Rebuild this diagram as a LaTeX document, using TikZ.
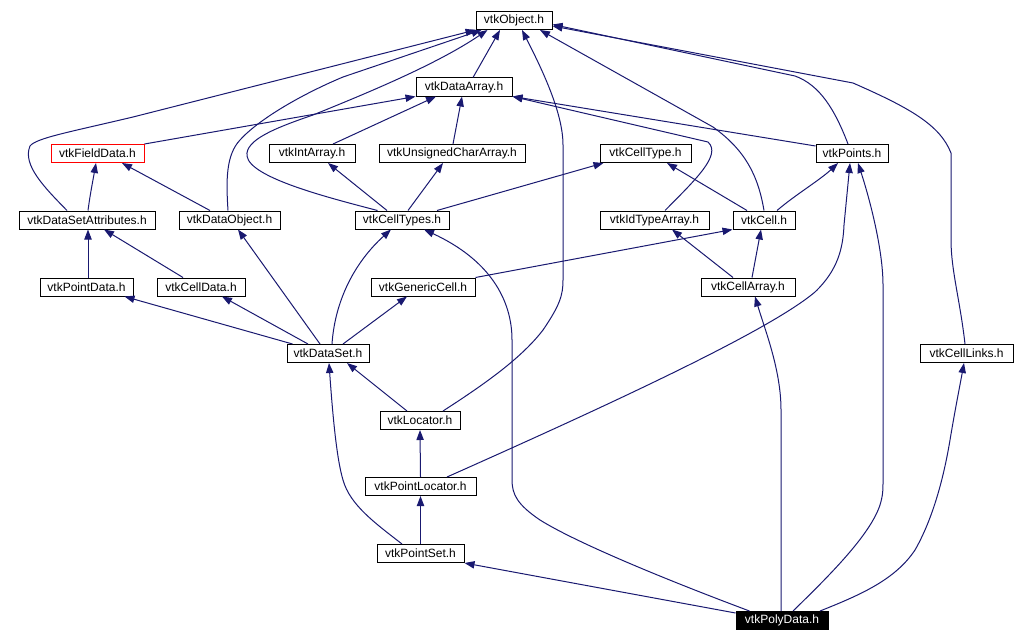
\documentclass[tikz,border=0pt]{standalone}
\usepackage{fontspec}
\setmainfont{Liberation Sans}
\usetikzlibrary{arrows.meta,calc}
\definecolor{lineblue}{HTML}{191970}
\newcommand\boxfont{\fontsize{9}{10}\selectfont}
\begin{document}
\begin{tikzpicture}[x=0.75pt,y=-0.75pt,
  box/.style={draw=black, line width=0.75pt, fill=white, inner sep=0pt, minimum height=13.5pt, minimum width={#1*0.75pt}, font=\boxfont},
  redbox/.style={box=#1, draw=red},
  blackbox/.style={box=#1, fill=black, text=white},
  dep/.style={draw=lineblue, line width=0.75pt, -{Triangle[length=7.5pt,width=5.5pt]}},
]
\useasboundingbox (0,0) rectangle (1016,642);
% nodes
\node[box=76]  (obj)  at (514,20.5) {vtkObject.h};
\node[box=96]  (darr) at (464,87) {vtkDataArray.h};
\node[redbox=93] (fd) at (97.5,153.5) {vtkFieldData.h};
\node[box=86]  (ia)   at (312,153.5) {vtkIntArray.h};
\node[box=146] (uca)  at (452,153.5) {vtkUnsignedCharArray.h};
\node[box=91]  (ct)   at (645.5,153.5) {vtkCellType.h};
\node[box=72]  (pts)  at (852,153.5) {vtkPoints.h};
\node[box=136] (dsa)  at (87,220) {vtkDataSetAttributes.h};
\node[box=101] (dob)  at (229.5,220) {vtkDataObject.h};
\node[box=94]  (cts)  at (402,220) {vtkCellTypes.h};
\node[box=109] (ida)  at (654.5,220) {vtkIdTypeArray.h};
\node[box=62]  (cell) at (764,220) {vtkCell.h};
\node[box=93]  (pd)   at (86.5,287) {vtkPointData.h};
\node[box=88]  (cd)   at (201,287) {vtkCellData.h};
\node[box=104] (gc)   at (423,287) {vtkGenericCell.h};
\node[box=94]  (ca)   at (748,287) {vtkCellArray.h};
\node[box=82]  (ds)   at (328,353.5) {vtkDataSet.h};
\node[box=93]  (cl)   at (966.5,353.5) {vtkCellLinks.h};
\node[box=80]  (loc)  at (420,420.5) {vtkLocator.h};
\node[box=111] (ploc) at (420.5,486.5) {vtkPointLocator.h};
\node[box=87]  (pset) at (420.5,553.5) {vtkPointSet.h};
\node[blackbox=92] (poly) at (782,620.5) {vtkPolyData.h};
% edges
\draw[dep] ($(darr.north)+(9,0)$) -- ($(obj.south)+(-14,0)$);
\draw[dep] (fd.north east) -- (darr.south west);
\draw[dep] ($(dsa.north)+(-20,0)$) .. controls (45,188) and (22,165) .. (30,146) .. controls (36,138) and (70,132) .. (133,117) -- (obj.south west);
\draw[dep] ($(dob.north)+(-1.5,0)$) .. controls (226,180) and (226,155) .. (240,140) .. controls (258,120) and (300,95) .. (343,77) -- ($(obj.south west)+(6,0)$);
\draw[dep] ($(cts.north west)+(23,0)$) .. controls (330,198) and (250,178) .. (247,156) .. controls (245,140) and (275,128) .. (313,115) .. controls (380,88) and (440,62) .. ($(obj.south west)+(12,0)$);
\draw[dep] ($(loc.north)+(23,0)$) .. controls (480,387) and (520,360) .. (543,330) .. controls (560,305) and (563,295) .. (563,280) -- (563,145) .. controls (563,115) and (545,75) .. ($(obj.south)+(8,0)$);
\draw[dep] (cell.north) .. controls (758,175) and (745,150) .. (713,127) -- ($(obj.south)+(26,0)$);
\draw[dep] ($(pts.north)+(-4,0)$) .. controls (835,110) and (820,85) .. (795,76) -- ($(obj.east)+(0,4)$);
\draw[dep] ($(cl.north)+(-1.5,0)$) .. controls (960,300) and (951,270) .. (951,240) -- (951,153) .. controls (940,125) and (910,108) .. (853,83) -- ($(obj.east)+(0,5.5)$);
\draw[dep] ($(ia.north)+(21,0)$) -- ($(darr.south)+(-28,0)$);
\draw[dep] ($(uca.north)+(1,0)$) -- ($(darr.south)+(-2,0)$);
\draw[dep] ($(pts.north west)+(0,2)$) -- (darr.south east);
\draw[dep] ($(ida.north)+(10.5,0)$) .. controls (695,180) and (722,155) .. (708,142) -- (darr.south east);
\draw[dep] ($(dsa.north)+(1,0)$) .. controls (90,195) and (93,180) .. ($(fd.south)+(-1.5,0)$);
\draw[dep] ($(dob.north)+(-19.5,0)$) -- ($(fd.south)+(24.5,0)$);
\draw[dep] ($(cts.north)+(-15,0)$) -- ($(ia.south)+(16,0)$);
\draw[dep] ($(cts.north)+(6,0)$) -- ($(uca.south)+(-9,0)$);
\draw[dep] ($(cts.north)+(35,0)$) -- ($(ct.south)+(-42,0)$);
\draw[dep] ($(cell.north)+(-17,0)$) -- ($(ct.south)+(21.5,0)$);
\draw[dep] ($(cell.north)+(13,0)$) .. controls (795,195) and (820,180) .. ($(pts.south)+(-14,0)$);
\draw[dep] ($(ploc.north)+(26.5,0)$) .. controls (620,400) and (770,330) .. (815,292) .. controls (838,270) and (843,248) .. (844,225) -- ($(pts.south)+(-2,0)$);
\draw[dep] ($(poly.north)+(11,0)$) .. controls (830,575) and (870,535) .. (880,505) .. controls (883,495) and (883,490) .. (883,480) -- (883,285) .. controls (883,250) and (870,200) .. ($(pts.south)+(6,0)$);
\draw[dep] ($(pd.north)+(1.5,0)$) -- ($(dsa.south)+(1,0)$);
\draw[dep] ($(cd.north)+(-18,0)$) -- ($(dsa.south)+(17,0)$);
\draw[dep] ($(ds.north)+(-8,0)$) -- ($(dob.south)+(8.5,0)$);
\draw[dep] ($(ds.north)+(4,0)$) .. controls (335,300) and (355,262) .. ($(cts.south)+(-11,0)$);
\draw[dep] ($(poly.north west)+(14,0)$) .. controls (680,585) and (580,545) .. (540,520) .. controls (518,505) and (512,495) .. (512,480) -- (512,340) .. controls (512,300) and (490,260) .. ($(cts.south)+(22,0)$);
\draw[dep] ($(ca.north)+(-15,0)$) -- ($(ida.south)+(17.5,0)$);
\draw[dep] (gc.north east) -- (cell.south west);
\draw[dep] ($(ca.north)+(4,0)$) -- ($(cell.south)+(-3,0)$);
\draw[dep] ($(ds.north west)+(6,0)$) -- ($(pd.south)+(38,0)$);
\draw[dep] ($(ds.north)+(-20,0)$) -- ($(cd.south)+(21,0)$);
\draw[dep] ($(ds.north)+(15,0)$) -- ($(gc.south)+(-16,0)$);
\draw[dep] ($(poly.north)+(-1,0)$) -- (781,410) .. controls (781,370) and (765,330) .. ($(ca.south)+(7,0)$);
\draw[dep] ($(pset.north)+(-18.5,0)$) .. controls (375,523) and (350,505) .. (343,480) .. controls (337,460) and (333,420) .. ($(ds.south)+(1,0)$);
\draw[dep] ($(loc.north)+(-13,0)$) -- ($(ds.south)+(19,0)$);
\draw[dep] ($(poly.north)+(38,0)$) .. controls (860,595) and (895,580) .. (915,550) .. controls (935,515) and (945,470) .. (950,440) .. controls (955,410) and (960,385) .. ($(cl.south)+(-2.5,0)$);
\draw[dep] (ploc.north) -- (loc.south);
\draw[dep] (pset.north) -- (ploc.south);
\draw[dep] ($(poly.north west)+(0,2)$) -- (pset.south east);
\end{tikzpicture}
\end{document}
